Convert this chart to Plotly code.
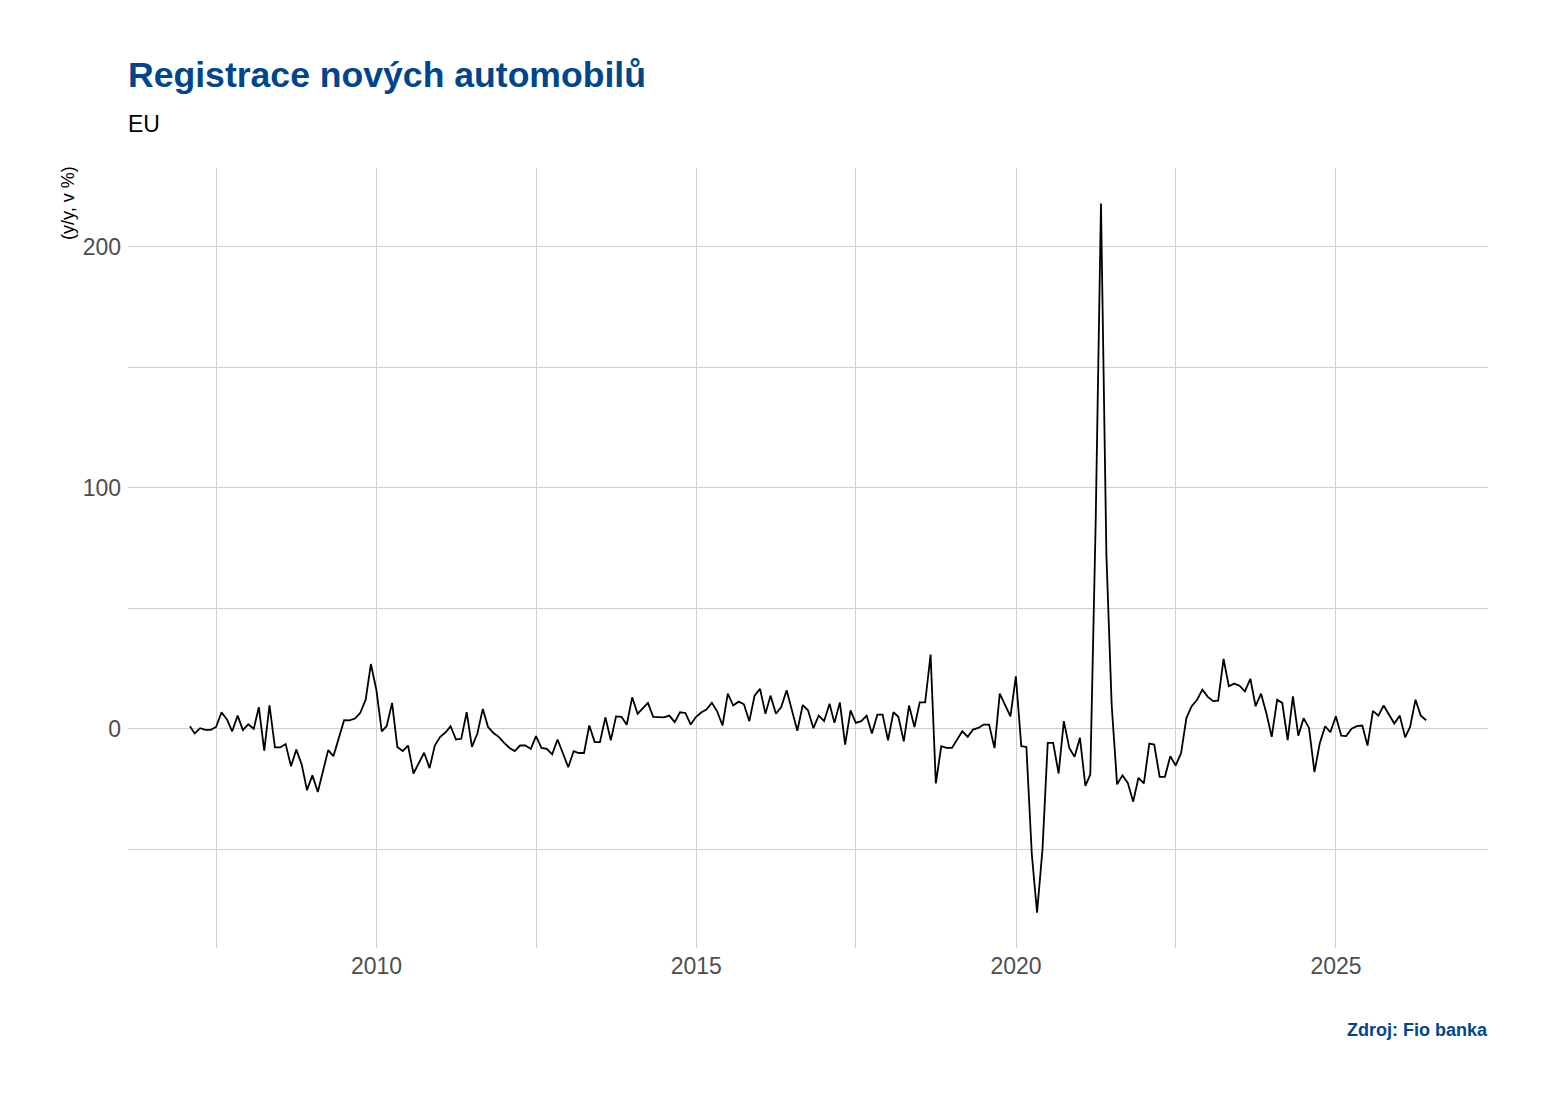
import pandas as pd
import plotly.graph_objects as go

# ---- data -------------------------------------------------------------
start_month = "2007-01"          # first observation (month-end dates)
yoy = [
    # 2007
    1.1, -1.9, 0.3, -0.4, -0.4, 0.8, 6.9, 3.9, -1.0, 5.5, -0.5, 1.9,
    # 2008
    0.0, 9.0, -9.0, 9.8, -7.7, -7.7, -6.3, -15.5, -8.6, -14.8, -25.4, -19.3,
    # 2009
    -26.2, -17.5, -8.8, -11.3, -4.1, 3.6, 3.5, 4.3, 6.6, 12.1, 26.9, 16.3,
    # 2010
    -1.0, 1.1, 10.8, -7.5, -9.2, -6.9, -18.5, -14.1, -9.9, -16.3, -6.9, -3.3,
    # 2011
    -1.4, 1.1, -4.4, -4.1, 6.9, -7.5, -1.9, 8.3, 0.8, -1.7, -3.3, -5.8,
    # 2012
    -7.9, -9.2, -6.9, -6.9, -8.3, -3.0, -7.9, -8.3, -10.6, -4.4, -9.9, -15.9,
    # 2013
    -9.2, -10.0, -10.0, 1.4, -5.5, -5.5, 4.8, -4.7, 5.2, 5.0, 1.7, 13.1,
    # 2014
    6.3, 8.4, 10.8, 5.0, 4.8, 4.8, 5.5, 2.8, 6.9, 6.6, 1.8, 5.0,
    # 2015
    6.9, 8.0, 10.8, 7.3, 1.4, 14.6, 9.7, 11.3, 10.2, 3.2, 13.8, 16.6,
    # 2016
    6.3, 13.8, 6.3, 9.1, 16.0, 7.6, -0.8, 9.9, 7.7, 0.3, 5.5, 3.2,
    # 2017
    10.4, 2.5, 11.0, -6.5, 7.7, 2.5, 3.2, 5.5, -1.9, 5.9, 5.9, -4.7,
    # 2018
    6.9, 5.0, -5.2, 9.7, 0.8, 11.0, 11.0, 30.8, -22.6, -7.2, -7.9, -7.9,
    # 2019
    -4.1, -1.0, -3.3, -0.3, 0.4, 1.8, 1.8, -8.0, 14.6, 9.7, 5.2, 21.8,
    # 2020
    -7.2, -7.5, -52.0, -76.2, -50.0, -5.8, -5.8, -18.5, 3.2, -7.9, -11.6, -3.7,
    # 2021
    -23.7, -18.9, 87.0, 218.0, 72.0, 10.0, -23.0, -19.3, -22.4, -30.2, -20.3, -22.6,
    # 2022
    -6.1, -6.5, -19.9, -19.9, -11.3, -15.2, -10.2, 4.6, 9.4, 12.1, 16.3, 13.3,
    # 2023
    11.5, 11.7, 29.0, 17.7, 18.8, 17.9, 15.6, 20.8, 9.4, 14.6, 6.6, -3.3,
    # 2024
    12.1, 10.8, -4.7, 13.5, -2.8, 4.4, 0.4, -17.9, -6.1, 1.1, -1.4, 5.2,
    # 2025
    -2.8, -3.0, 0.1, 1.1, 1.4, -6.9, 7.5, 5.5, 9.7, 5.9, 2.2, 5.5,
    # 2026
    -3.5, 0.8, 12.1, 5.5, 3.6,
]
x_tick_vals = ["2010-01-01", "2015-01-01", "2020-01-01", "2025-01-01"]
x_tick_text = ["2010", "2015", "2020", "2025"]
y_tick_vals = [0, 100, 200]
y_tick_text = ["0", "100", "200"]

title_text = "Registrace nových automobilů"
subtitle_text = "EU"
y_title_text = "(y/y, v %)"
caption_text = "Zdroj: Fio banka"

# month-end dates
dates = (pd.date_range(start=start_month + "-01", periods=len(yoy) + 1, freq="MS")[1:]
         - pd.Timedelta(days=1))

# ggplot-like 5 % expansion of both axes
span = dates[-1] - dates[0]
x_range = [dates[0] - span * 0.05, dates[-1] + span * 0.05]
ymin, ymax = min(yoy), max(yoy)
ypad = (ymax - ymin) * 0.05
y_range = [ymin - ypad, ymax + ypad]

BLUE = "#00468B"
GRID = "#d0d0d0"
FONT = "Liberation Sans, Arial, sans-serif"

fig = go.Figure(
    go.Scatter(x=dates, y=yoy, mode="lines",
               line=dict(color="black", width=1.8),
               showlegend=False, hoverinfo="x+y")
)

fig.update_layout(
    width=1548, height=1099,
    paper_bgcolor="white", plot_bgcolor="white",
    margin=dict(l=128, r=60, t=168, b=151),
    font=dict(family=FONT, color="#4d4d4d"),
    title=dict(text="<b>" + title_text + "</b>", x=128 / 1548, xanchor="left",
               y=1 - 75 / 1099, yanchor="middle",
               font=dict(size=35.6, color=BLUE, family=FONT)),
    annotations=[
        dict(text=subtitle_text, xref="paper", yref="paper", x=0, y=(948 - 124) / 780,
             xanchor="left", yanchor="middle", showarrow=False, xshift=-2,
             font=dict(size=23, color="black", family=FONT)),
        dict(text=y_title_text, xref="paper", yref="paper", x=(68 - 128) / 1360,
             y=(948 - 164) / 780, xanchor="center", yanchor="top", textangle=-90,
             showarrow=False, font=dict(size=18, color="black", family=FONT)),
        dict(text="<b>" + caption_text + "</b>", xref="paper", yref="paper", x=1,
             y=(948 - 1030) / 780, xanchor="right", yanchor="middle", showarrow=False,
             xshift=2, font=dict(size=18, color=BLUE, family=FONT)),
    ],
)

fig.update_xaxes(
    type="date", range=x_range,
    tickvals=x_tick_vals, ticktext=x_tick_text,
    showgrid=True, gridcolor=GRID, gridwidth=1,
    minor=dict(showgrid=True, gridcolor=GRID, gridwidth=1,
               tick0="2007-07-01", dtick="M30"),
    zeroline=False, showline=False, ticks="",
    tickfont=dict(size=23, color="#4d4d4d", family=FONT),
    ticklabelstandoff=2,
)
fig.update_yaxes(
    range=y_range,
    tickvals=y_tick_vals, ticktext=y_tick_text,
    showgrid=True, gridcolor=GRID, gridwidth=1,
    minor=dict(showgrid=True, gridcolor=GRID, gridwidth=1, tick0=-50, dtick=100),
    zeroline=False, showline=False, ticks="",
    tickfont=dict(size=23, color="#4d4d4d", family=FONT),
    ticklabelstandoff=6,
)

fig.write_html("out.html")
